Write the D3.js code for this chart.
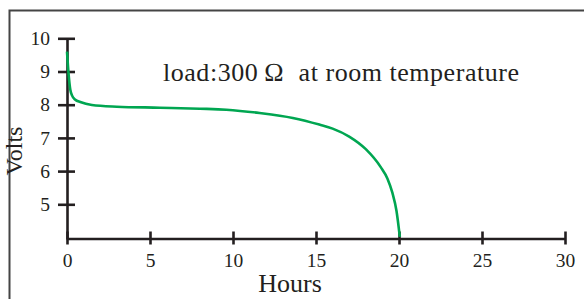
<html>
  <head>
    <style>
      body { margin: 0; background: #fff; }
      svg { display: block; font-family: "Liberation Serif", "Times New Roman", serif; }
    </style>
    <script src="https://cdn.jsdelivr.net/npm/d3@7"></script>
  </head>
  <body>
    <div id="chart"></div>
    <script>
      // discharge curve
      const hours = [0, 0.1, 0.2, 0.3, 0.5, 0.8, 1.5, 3, 5.6, 8, 9.6, 11.6, 13.6, 15.2, 16, 17, 18, 18.9, 19.3, 19.6, 19.85, 20.05];
      const volts = [9.6, 8.9, 8.45, 8.28, 8.15, 8.08, 7.99, 7.94, 7.91, 7.88, 7.85, 7.75, 7.6, 7.4, 7.28, 7.04, 6.66, 6.12, 5.78, 5.35, 4.8, 4.02];
      const xTicks = [0, 5, 10, 15, 20, 25, 30];
      const yTicks = [5, 6, 7, 8, 9, 10];

      const width = 584, height = 299;
      const svg = d3.select("#chart").append("svg")
        .attr("width", width)
        .attr("height", height);

      const x = d3.scaleLinear().domain([0, 30]).range([67, 565]);
      const y = d3.scaleLinear().domain([4, 10]).range([237.5, 38.3]);

      // frame (top + left only)
      svg.append("path")
        .attr("d", "M9.5,299V10.5H584")
        .attr("fill", "none")
        .attr("stroke", "#444")
        .attr("stroke-width", 2);

      const xAxis = svg.append("g")
        .attr("transform", `translate(0,${y(4) + 1})`)
        .call(d3.axisBottom(x).tickValues(xTicks).tickSizeInner(6).tickSizeOuter(0).tickPadding(9));
      xAxis.selectAll(".tick line").attr("y1", -7);

      const yAxis = svg.append("g")
        .attr("transform", `translate(${x(0)},0)`)
        .call(d3.axisLeft(y).tickValues(yTicks).tickFormat(d3.format("d")).tickSizeInner(9).tickSizeOuter(0).tickPadding(8));
      yAxis.selectAll(".tick line").attr("x1", 8).attr("x2", -9);
      yAxis.select(".domain").attr("d", `M0.5,${y(10)}V${y(4) + 2}`);

      svg.selectAll(".domain, .tick line")
        .attr("stroke", "#231f20")
        .attr("stroke-width", 2.6);
      svg.selectAll(".tick text")
        .attr("font-size", 19.5)
        .attr("font-family", "Liberation Serif")
        .attr("fill", "#231f20");

      svg.append("path")
        .datum(hours.map((h, i) => [h, volts[i]]))
        .attr("fill", "none")
        .attr("stroke", "#00a651")
        .attr("stroke-width", 2.6)
        .attr("d", d3.line().x(d => x(d[0])).y(d => y(d[1])).curve(d3.curveMonotoneX));

      svg.append("text")
        .attr("x", 163).attr("y", 80.5)
        .attr("font-size", 26)
        .attr("fill", "#231f20")
        .attr("textLength", 356)
        .style("white-space", "pre")
        .text("load:300\u2009\u2126  at room temperature");

      svg.append("text")
        .attr("x", 290).attr("y", 292)
        .attr("text-anchor", "middle")
        .attr("font-size", 26)
        .attr("fill", "#231f20")
        .text("Hours");

      svg.append("text")
        .attr("transform", "translate(22,151) rotate(-90)")
        .attr("text-anchor", "middle")
        .attr("font-size", 24)
        .attr("fill", "#231f20")
        .text("Volts");
    </script>
  </body>
</html>
